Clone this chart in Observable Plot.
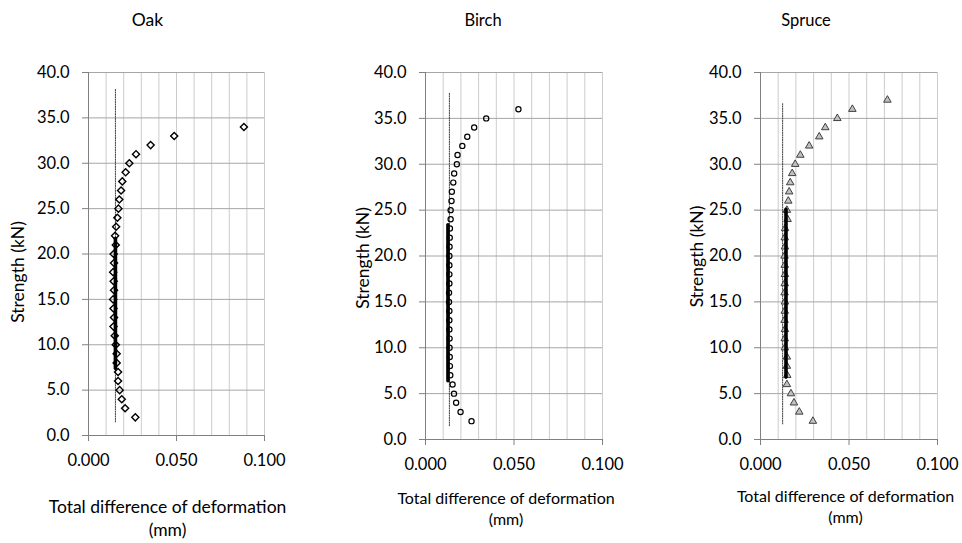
<!DOCTYPE html>
<html>
<head>
<meta charset="utf-8">
<script src="https://cdn.jsdelivr.net/npm/d3@7"></script>
<script src="https://cdn.jsdelivr.net/npm/@observablehq/plot@0.6"></script>
<style>
  html, body { margin: 0; padding: 0; background: #fff; }
  #wrap { position: relative; width: 962px; height: 543px; overflow: hidden; }
  .panel { position: absolute; top: 0; }
</style>
</head>
<body>
<div id="wrap"></div>
<script>
// ---- Data ----
const oakStrength = d3.range(2, 35);
const oakDeformation = [0.0266, 0.0208, 0.0189, 0.0177, 0.0168, 0.0168, 0.0160, 0.0160, 0.0155, 0.0149,
  0.0142, 0.0145, 0.0142, 0.0140, 0.0145, 0.0143, 0.0140, 0.0145, 0.0143, 0.0155, 0.0151, 0.0157,
  0.0164, 0.0170, 0.0175, 0.0185, 0.0192, 0.0211, 0.0232, 0.0270, 0.0353, 0.0487, 0.0883];
const oakFitX = [0.0153, 0.0153];
const oakFitY = [7.4, 21.7];
const oakRefX = [0.0153, 0.0153];
const oakRefY = [1.5, 38.2];

const birchStrength = d3.range(2, 37);
const birchDeformation = [0.0260, 0.0198, 0.0173, 0.0161, 0.0153, 0.0140, 0.0138, 0.0137, 0.0136, 0.0136,
  0.0135, 0.0135, 0.0135, 0.0133, 0.0133, 0.0135, 0.0135, 0.0135, 0.0135, 0.0136, 0.0137, 0.0138,
  0.0142, 0.0142, 0.0147, 0.0149, 0.0157, 0.0162, 0.0177, 0.0181, 0.0208, 0.0236, 0.0275, 0.0343, 0.0525];
const birchFitX = [0.0127, 0.0127];
const birchFitY = [6.4, 23.4];
const birchRefX = [0.0135, 0.0135];
const birchRefY = [1.5, 37.8];

const spruceStrength = d3.range(2, 38);
const spruceDeformation = [0.0296, 0.0219, 0.0189, 0.0172, 0.0149, 0.0151, 0.0149, 0.0149, 0.0138, 0.0137,
  0.0138, 0.0136, 0.0137, 0.0138, 0.0136, 0.0137, 0.0138, 0.0137, 0.0136, 0.0138, 0.0137, 0.0139,
  0.0153, 0.0149, 0.0157, 0.0162, 0.0168, 0.0179, 0.0196, 0.0225, 0.0275, 0.0332, 0.0366, 0.0434,
  0.0519, 0.0717];
const spruceFitX = [0.0144, 0.0144];
const spruceFitY = [6.8, 25.1];
const spruceRefX = [0.0125, 0.0125];
const spruceRefY = [1.7, 36.6];

const yTicks = [0, 5, 10, 15, 20, 25, 30, 35, 40];
const xTicks = [0, 0.05, 0.1];
const xGrid = [0, 0.01, 0.02, 0.03, 0.04, 0.05, 0.06, 0.07, 0.08, 0.09, 0.1];

const panels = [
  {title: "Oak", strength: oakStrength, def: oakDeformation, fitX: oakFitX, fitY: oakFitY, refX: oakRefX, refY: oakRefY,
   symbol: "diamond2", r: 3.2, fill: "none", stroke: "#000", sw: 1.4,
   left: 0, width: 320, mt: 72, mb: 108, ml: 88, mr: 56,
   titleDx: -29, titleSize: 17.5, ylabDx: -70, ylabDy: 18, xlabDx: -9, xlabDy: 81.5, xlabSize: 17.5, xlabLH: 1.31, xtickPad: 13},
  {title: "Birch", strength: birchStrength, def: birchDeformation, fitX: birchFitX, fitY: birchFitY, refX: birchRefX, refY: birchRefY,
   symbol: "circle", r: 2.6, fill: "none", stroke: "#000", sw: 1.2,
   left: 320, width: 320, mt: 72, mb: 104, ml: 105, mr: 38,
   titleDx: -31, titleSize: 16.5, ylabDx: -62, ylabDy: 2, xlabDx: -8, xlabDy: 68.5, xlabSize: 16, xlabLH: 1.31, xtickPad: 13},
  {title: "Spruce", strength: spruceStrength, def: spruceDeformation, fitX: spruceFitX, fitY: spruceFitY, refX: spruceRefX, refY: spruceRefY,
   symbol: "triangle2", r: 3.6, fill: "#c0c0c0", stroke: "#404040", sw: 1,
   left: 640, width: 322, mt: 72, mb: 104, ml: 120, mr: 25,
   titleDx: -43, titleSize: 16.5, ylabDx: -63, ylabDy: 0.5, xlabDx: -3.5, xlabDy: 66.5, xlabSize: 16, xlabLH: 1.31, xtickPad: 13}
];

const wrap = document.getElementById("wrap");
for (const p of panels) {
  const pts = p.strength.map((s, i) => ({s, d: p.def[i]}));
  const fit = p.fitX.map((x, i) => ({x, y: p.fitY[i]}));
  const ref = p.refX.map((x, i) => ({x, y: p.refY[i]}));
  const chart = Plot.plot({
    width: p.width,
    height: 543,
    marginTop: p.mt, marginBottom: p.mb, marginLeft: p.ml, marginRight: p.mr,
    style: {fontFamily: "Lato, sans-serif", fontSize: "16.5px", color: "#000", background: "transparent", overflow: "visible"},
    x: {domain: [0, 0.1]},
    y: {domain: [0, 40]},
    marks: [
      Plot.gridX(xGrid, {stroke: "#cccccc", strokeOpacity: 1, strokeWidth: 1}),
      Plot.gridY(yTicks, {stroke: "#a6a6a6", strokeOpacity: 1, strokeWidth: 1}),
      Plot.axisY(yTicks, {tickFormat: d3.format(".1f"), tickSize: 6, tickPadding: 13, stroke: "#808080", fill: "#000", label: null}),
      Plot.axisX(xTicks, {tickFormat: d3.format(".3f"), tickSize: 6, tickPadding: p.xtickPad, stroke: "#808080", fill: "#000", label: null}),
      Plot.ruleX([0], {stroke: "#808080"}),
      Plot.ruleY([0], {stroke: "#808080"}),
      Plot.line(ref, {x: "x", y: "y", stroke: "#404040", strokeWidth: 1, strokeDasharray: "1.2,1.2"}),
      Plot.dot(pts, {x: "d", y: "s", symbol: p.symbol, r: p.r, fill: p.fill, stroke: p.stroke, strokeWidth: p.sw}),
      Plot.line(fit, {x: "x", y: "y", stroke: "#000", strokeWidth: 3.6}),
      Plot.text([p.title], {frameAnchor: "top", dy: -52, dx: p.titleDx, lineAnchor: "middle", textAnchor: "middle", fontSize: p.titleSize, fill: "#000"}),
      Plot.text(["Strength (kN)"], {frameAnchor: "left", rotate: -90, dx: p.ylabDx, dy: p.ylabDy, textAnchor: "middle", lineAnchor: "middle", fontSize: 17.5, fill: "#000"}),
      Plot.text(["Total difference of deformation\n(mm)"], {frameAnchor: "bottom", dy: p.xlabDy, dx: p.xlabDx, textAnchor: "middle", lineAnchor: "middle", lineHeight: p.xlabLH, fontSize: p.xlabSize, fill: "#000"})
    ]
  });
  const div = document.createElement("div");
  div.className = "panel";
  div.style.left = p.left + "px";
  div.appendChild(chart);
  wrap.appendChild(div);
}
</script>
</body>
</html>
